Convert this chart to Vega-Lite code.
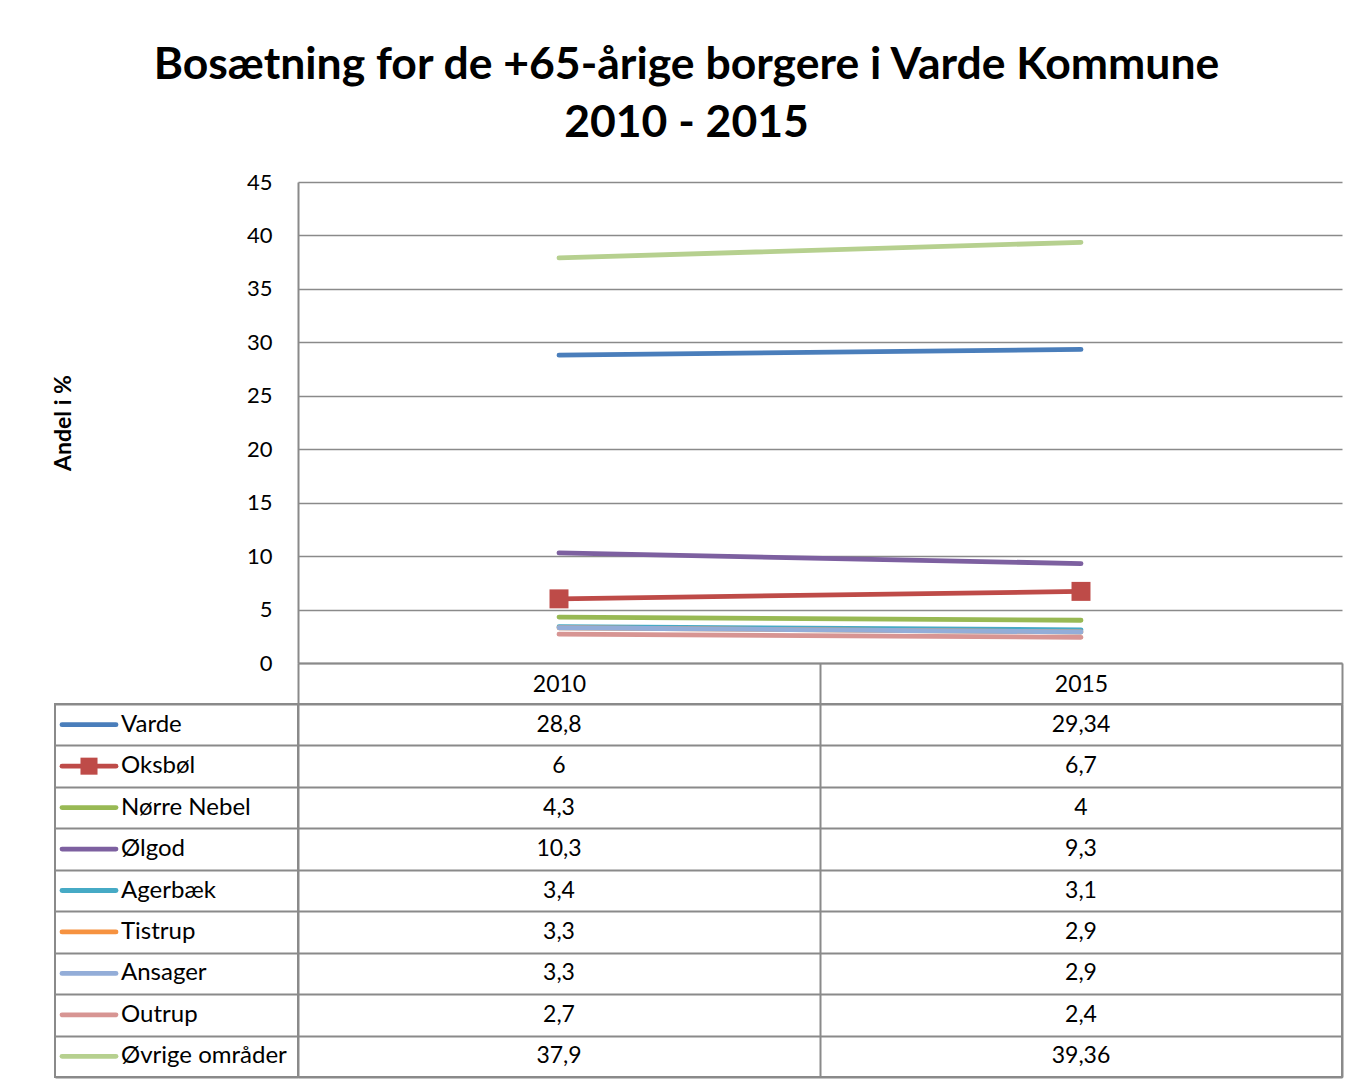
{
  "$schema": "https://vega.github.io/schema/vega-lite/v6.json",
  "background": "white",
  "padding": {"left": 51, "top": 42, "right": 20, "bottom": 5},
  "title": {
    "text": ["Bosætning for de +65-årige borgere i Varde Kommune", "2010 - 2015"],
    "font": "Lato", "fontSize": 44.5, "fontWeight": "bold", "lineHeight": 58,
    "color": "black", "anchor": "middle", "offset": 25, "dx": -11
  },
  "datasets": {
    "d": [
      {"name": "Varde", "year": 2010, "value": 28.8},
      {"name": "Varde", "year": 2015, "value": 29.34},
      {"name": "Oksbøl", "year": 2010, "value": 6},
      {"name": "Oksbøl", "year": 2015, "value": 6.7},
      {"name": "Nørre Nebel", "year": 2010, "value": 4.3},
      {"name": "Nørre Nebel", "year": 2015, "value": 4},
      {"name": "Ølgod", "year": 2010, "value": 10.3},
      {"name": "Ølgod", "year": 2015, "value": 9.3},
      {"name": "Agerbæk", "year": 2010, "value": 3.4},
      {"name": "Agerbæk", "year": 2015, "value": 3.1},
      {"name": "Tistrup", "year": 2010, "value": 3.3},
      {"name": "Tistrup", "year": 2015, "value": 2.9},
      {"name": "Ansager", "year": 2010, "value": 3.3},
      {"name": "Ansager", "year": 2015, "value": 2.9},
      {"name": "Outrup", "year": 2010, "value": 2.7},
      {"name": "Outrup", "year": 2015, "value": 2.4},
      {"name": "Øvrige områder", "year": 2010, "value": 37.9},
      {"name": "Øvrige områder", "year": 2015, "value": 39.36}
    ]
  },
  "data": {"name": "d"},
  "columns": 2,
  "bounds": "flush",
  "spacing": {"row": 41, "column": 0},
  "concat": [
    {
      "width": 243, "height": 481,
      "view": {"stroke": null},
      "mark": {"type": "text"},
      "encoding": {"text": {"value": ""}}
    },
    {
      "width": 1044, "height": 481,
      "view": {"stroke": null},
      "encoding": {
        "x": {
          "field": "year", "type": "ordinal", "bandPosition": 0.5,
          "scale": {"type": "band", "paddingInner": 0, "paddingOuter": 0},
          "axis": {"title": null, "orient": "bottom", "tickBand": "extent", "tickSize": 41,
                   "labelPadding": -31, "labelAngle": 0, "labelBaseline": "top", "labelFontSize": 23,
                   "domain": true, "grid": false}
        },
        "y": {
          "field": "value", "type": "quantitative",
          "scale": {"domain": [0, 45], "nice": false},
          "axis": {"values": [0, 5, 10, 15, 20, 25, 30, 35, 40, 45], "title": "Andel i %",
                   "titleFontSize": 23, "titleFontWeight": "bold", "titleAngle": -90,
                   "titleX": -223, "titleY": 240.5, "titleAlign": "center", "titleBaseline": "bottom",
                   "labelPadding": 26, "ticks": false, "grid": true, "gridWidth": 1.5, "domain": true}
        },
        "color": {
          "field": "name", "type": "nominal", "legend": null,
          "scale": {
            "domain": ["Varde", "Oksbøl", "Nørre Nebel", "Ølgod", "Agerbæk", "Tistrup", "Ansager", "Outrup", "Øvrige områder"],
            "range": ["#4A7EBB", "#BE4B48", "#98B954", "#7D60A0", "#46AAC5", "#F69240", "#93ADD8", "#D79593", "#B6D08F"]
          }
        }
      },
      "layer": [
        {"mark": {"type": "line", "strokeWidth": 4.8, "strokeCap": "round"}},
        {
          "transform": [{"filter": "datum.name === 'Oksbøl'"}],
          "mark": {"type": "point", "shape": "square", "filled": true, "size": 360, "opacity": 1}
        }
      ]
    },
    {
      "width": 243, "height": 373,
      "transform": [{"filter": "datum.year == 2010"}],
      "encoding": {
        "y": {
          "field": "name", "type": "nominal",
          "sort": ["Varde", "Oksbøl", "Nørre Nebel", "Ølgod", "Agerbæk", "Tistrup", "Ansager", "Outrup", "Øvrige områder"],
          "scale": {"type": "band", "paddingInner": 0, "paddingOuter": 0},
          "axis": {"title": null, "labels": false, "ticks": false, "domain": false, "grid": true, "tickBand": "extent"}
        }
      },
      "layer": [
        {
          "mark": {"type": "rule", "strokeWidth": 4.8, "strokeCap": "round"},
          "encoding": {
            "x": {"datum": 7, "type": "quantitative", "scale": {"domain": [0, 243], "nice": false}, "axis": null},
            "x2": {"datum": 61},
            "color": {"field": "name", "type": "nominal", "legend": null}
          }
        },
        {
          "transform": [{"filter": "datum.name === 'Oksbøl'"}],
          "mark": {"type": "point", "shape": "square", "filled": true, "size": 290, "opacity": 1},
          "encoding": {
            "x": {"datum": 34, "type": "quantitative"},
            "color": {"field": "name", "type": "nominal", "legend": null}
          }
        },
        {
          "mark": {"type": "text", "align": "left", "baseline": "middle", "fontSize": 24, "font": "Lato", "color": "black"},
          "encoding": {
            "x": {"datum": 66, "type": "quantitative"},
            "text": {"field": "name"}
          }
        }
      ]
    },
    {
      "width": 1044, "height": 373,
      "mark": {"type": "text", "fontSize": 23, "font": "Lato", "baseline": "middle", "color": "black"},
      "encoding": {
        "x": {
          "field": "year", "type": "ordinal",
          "scale": {"type": "band", "paddingInner": 0, "paddingOuter": 0},
          "axis": {"title": null, "labels": false, "ticks": false, "domain": false, "grid": true, "tickBand": "extent"}
        },
        "y": {
          "field": "name", "type": "nominal",
          "sort": ["Varde", "Oksbøl", "Nørre Nebel", "Ølgod", "Agerbæk", "Tistrup", "Ansager", "Outrup", "Øvrige områder"],
          "scale": {"type": "band", "paddingInner": 0, "paddingOuter": 0},
          "axis": {"title": null, "labels": false, "ticks": false, "domain": false, "grid": true, "tickBand": "extent"}
        },
        "text": {"field": "value", "type": "quantitative", "format": "~g"}
      }
    }
  ],
  "config": {
    "font": "Lato",
    "view": {"stroke": "#8a8a8a", "strokeWidth": 2},
    "axis": {
      "gridColor": "#8a8a8a", "gridWidth": 2, "gridOpacity": 1,
      "domainColor": "#8a8a8a", "domainWidth": 2,
      "tickColor": "#8a8a8a", "tickWidth": 2,
      "labelFont": "Lato", "labelFontSize": 22, "labelColor": "black",
      "titleFont": "Lato", "titleColor": "black"
    },
    "locale": {
      "number": {"decimal": ",", "thousands": ".", "grouping": [3], "currency": ["", " kr."]}
    }
  }
}
